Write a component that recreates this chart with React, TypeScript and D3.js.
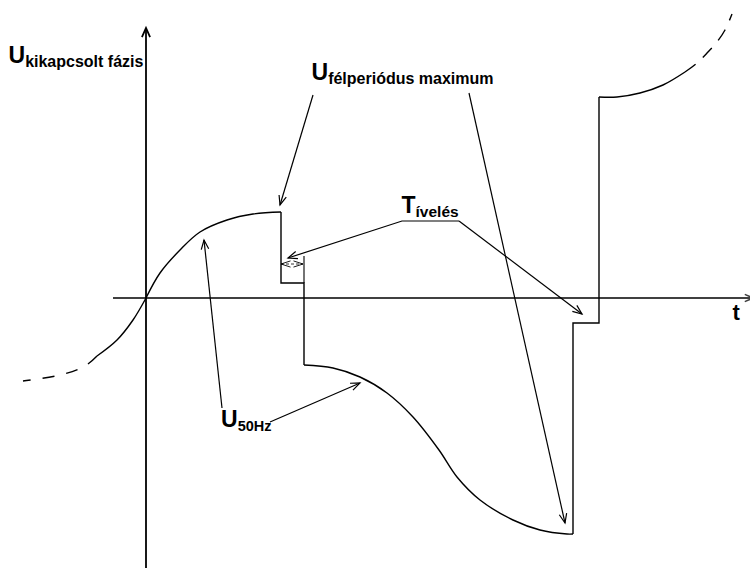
import React from "react";
import * as d3 from "d3";

// waveform, in diagram units (t to the right, u upward, origin at axis crossing)
const leftSolid: [number, number][] = [[0, 0], [-13, -22], [-29, -42], [-49, -58]];
const leftDashed: [number, number][] = [[-49, -58], [-61, -68], [-86, -77], [-123, -83]];
const firstHalf: [number, number][] = [[0, 0], [14, 25], [34, 48], [54, 66], [81, 78], [107, 84], [135, 86]];
const firstStep: [number, number][] = [[135, 86], [135, 15], [158, 15], [158, -67]];
const arcMarker: [number, number][] = [[158, 15], [158, 42]];
const secondHalf: [number, number][] = [[158, -67], [187, -70], [214, -79], [241, -95], [267, -119], [293, -152], [311, -179], [334, -202], [367, -222], [394, -232], [421, -236], [427, -236]];
const secondStep: [number, number][] = [[427, -236], [427, -25], [453, -25], [453, 201]];
const thirdSolid: [number, number][] = [[453, 201], [471, 201], [494, 205], [517, 213], [539, 226]];
const thirdDashed: [number, number][] = [[539, 226], [551, 235], [562, 246], [571, 256], [579, 268], [586, 284]];

// annotation arrows: [from, to]
const arrowsHalfMax: [number, number][][] = [[[167, 203], [134, 93]], [[323, 205], [419, -225]]];
const arrowT: [number, number][] = [[313, 77], [256, 77], [142, 40]];
const arrowTRight: [number, number][] = [[313, 77], [436, -16]];
const arrows50: [number, number][][] = [[[76, -110], [58, 58]], [[124, -124], [214, -85]]];
const arcSpan: [number, number][] = [[135, 34], [157, 34]];

// axes extents
const tAxis: [number, number] = [-33, 607];
const uAxis: [number, number] = [-270, 270];

const labels = [
  { main: "U", sub: "kikapcsolt fázis", t: -137.5, u: 235, subSize: 16 },
  { main: "U", sub: "félperiódus maximum", t: 165.5, u: 218, subSize: 16 },
  { main: "T", sub: "ívelés", t: 255.5, u: 85, subSize: 15.5 },
  { main: "U", sub: "50Hz", t: 75, u: -129, subSize: 14.5 },
];

const W = 750;
const H = 569;

const x = d3.scaleLinear().domain([0, 100]).range([146, 246]);
const y = d3.scaleLinear().domain([0, 100]).range([298, 198]);

const line = d3.line<[number, number]>().x((d) => x(d[0])).y((d) => y(d[1]));
const smooth = d3
  .line<[number, number]>()
  .x((d) => x(d[0]))
  .y((d) => y(d[1]))
  .curve(d3.curveCatmullRom.alpha(0.5));

function head(from: [number, number], to: [number, number], len = 10, ang = 22) {
  const [x1, y1] = [x(from[0]), y(from[1])];
  const [x2, y2] = [x(to[0]), y(to[1])];
  const a = Math.atan2(y1 - y2, x1 - x2);
  const r = (ang * Math.PI) / 180;
  const p1 = [x2 + len * Math.cos(a + r), y2 + len * Math.sin(a + r)];
  const p2 = [x2 + len * Math.cos(a - r), y2 + len * Math.sin(a - r)];
  return `M${p1[0]},${p1[1]}L${x2},${y2}L${p2[0]},${p2[1]}`;
}

export default function App() {
  const font = "Arial, 'Liberation Sans', sans-serif";
  const stroke = { fill: "none", stroke: "#000" } as const;
  return (
    <svg width={W} height={H} style={{ position: "absolute", left: 0, top: 0, background: "#fff" }}>
      {/* axes */}
      <path d={line([[tAxis[0], 0], [tAxis[1], 0]])!} stroke="#404040" strokeWidth={2} fill="none" />
      <path d={head([tAxis[0], 0], [tAxis[1], 0], 9, 24)} stroke="#404040" strokeWidth={1.5} fill="none" />
      <path d={line([[0, uAxis[0]], [0, uAxis[1]]])!} {...stroke} strokeWidth={1.8} />
      <path d={head([0, 0], [0, uAxis[1]], 10, 24)} {...stroke} strokeWidth={1.8} />

      {/* waveform */}
      <g {...stroke} strokeWidth={1.4}>
        <path d={smooth(leftSolid)!} />
        <path d={smooth(leftDashed)!} strokeDasharray="12,12" />
        <path d={smooth(firstHalf)!} />
        <path d={line(firstStep)!} />
        <path d={line(arcMarker)!} strokeWidth={1.1} />
        <path d={smooth(secondHalf)!} />
        <path d={line(secondStep)!} />
        <path d={smooth(thirdSolid)!} />
        <path d={smooth(thirdDashed)!} strokeDasharray="13,10" />
      </g>

      {/* annotations */}
      <g {...stroke} strokeWidth={1.2}>
        {arrowsHalfMax.map((a, i) => (
          <g key={"h" + i}>
            <path d={line(a)!} />
            <path d={head(a[0], a[1])} />
          </g>
        ))}
        <path d={line(arrowT)!} />
        <path d={head(arrowT[1], arrowT[2])} />
        <path d={line(arrowTRight)!} />
        <path d={head(arrowTRight[0], arrowTRight[1])} />
        {arrows50.map((a, i) => (
          <g key={"f" + i}>
            <path d={line(a)!} />
            <path d={head(a[0], a[1])} />
          </g>
        ))}
        <path d={line(arcSpan)!} strokeWidth={0.8} strokeDasharray="3,2" />
        <path d={head(arcSpan[1], arcSpan[0], 10, 18)} strokeWidth={0.9} />
        <path d={head(arcSpan[0], arcSpan[1], 10, 18)} strokeWidth={0.9} />
      </g>

      {/* labels */}
      <g fontFamily={font} fontWeight="bold" fill="#000">
        {labels.map((l, i) => (
          <text key={i} x={x(l.t)} y={y(l.u)}>
            <tspan fontSize={23}>{l.main}</tspan>
            <tspan fontSize={l.subSize} dy={4}>{l.sub}</tspan>
          </text>
        ))}
        <text x={x(586.5)} y={y(-22)} fontSize={22}>t</text>
      </g>
    </svg>
  );
}
